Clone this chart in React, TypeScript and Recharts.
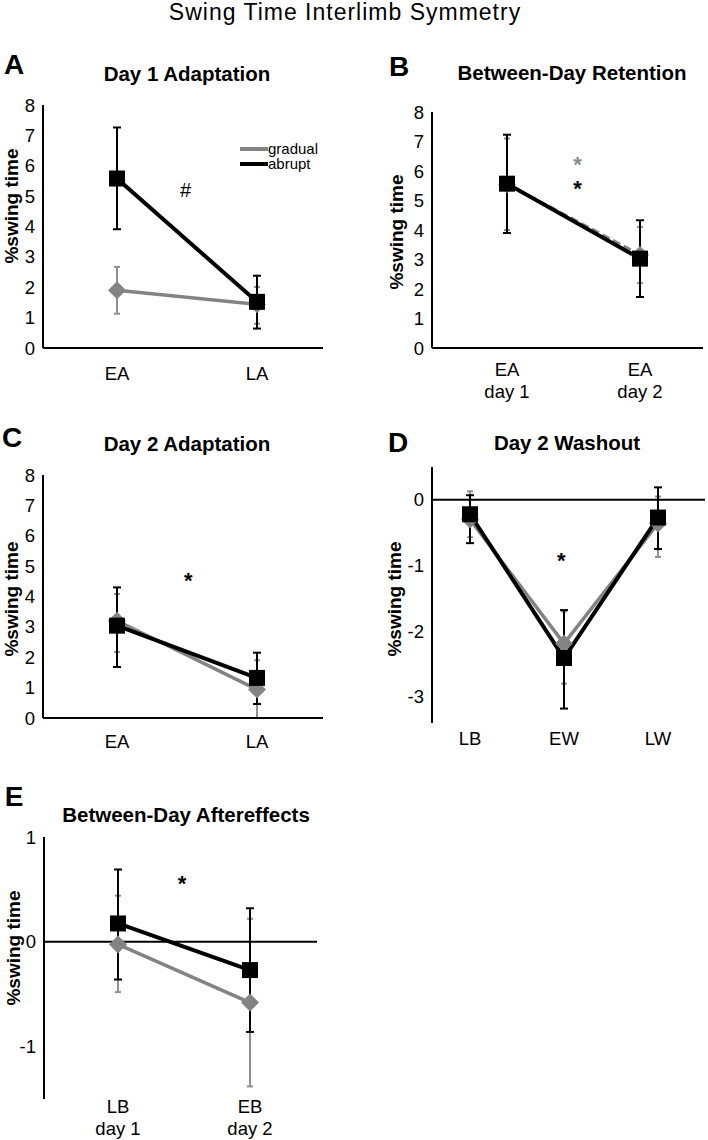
import React from "react";
import {
  ErrorBar,
  Legend,
  Line,
  LineChart,
  ReferenceDot,
  ReferenceLine,
  XAxis,
  YAxis,
} from "recharts";

const FONT = "'Liberation Sans', Arial, Helvetica, sans-serif";
const GRAY = "#838383";
const GRAY_BAR = "#8f8f8f";

// A - Day 1 Adaptation
const aCats = ["EA", "LA"];
const aGradual = [1.9, 1.44];
const aGradualLo = [1.13, 0.8];
const aGradualHi = [2.67, 2.01];
const aAbrupt = [5.58, 1.52];
const aAbruptLo = [3.91, 0.64];
const aAbruptHi = [7.26, 2.38];

// B - Between-Day Retention
const bCats = ["EA\nday 1", "EA\nday 2"];
const bGradual = [5.55, 3.15];
const bGradualLo = [4.0, 2.2];
const bGradualHi = [7.1, 4.1];
const bAbrupt = [5.57, 3.03];
const bAbruptLo = [3.9, 1.73];
const bAbruptHi = [7.23, 4.33];

// C - Day 2 Adaptation
const cCats = ["EA", "LA"];
const cGradual = [3.2, 0.94];
const cGradualLo = [2.17, 0.0];
const cGradualHi = [4.08, 1.9];
const cAbrupt = [3.04, 1.32];
const cAbruptLo = [1.68, 0.46];
const cAbruptHi = [4.3, 2.15];

// D - Day 2 Washout
const dCats = ["LB", "EW", "LW"];
const dGradual = [-0.3, -2.19, -0.36];
const dGradualLo = [-0.57, -2.8, -0.87];
const dGradualHi = [0.13, -1.7, 0.05];
const dAbrupt = [-0.22, -2.41, -0.27];
const dAbruptLo = [-0.66, -3.18, -0.75];
const dAbruptHi = [0.07, -1.68, 0.19];

// E - Between-Day Aftereffects
const eCats = ["LB\nday 1", "EB\nday 2"];
const eGradual = [-0.025, -0.58];
const eGradualLo = [-0.48, -1.38];
const eGradualHi = [0.44, 0.22];
const eAbrupt = [0.175, -0.27];
const eAbruptLo = [-0.36, -0.86];
const eAbruptHi = [0.69, 0.32];

const seriesOrder = ["gradual", "abrupt"];

// significance marks (x in category index units)
const aMarks = [{ x: 0.49, y: 5.2, text: "#", color: "#000" }];
const bMarks = [
  { x: 0.53, y: 6.41, text: "*", color: "#8a8a8a" },
  { x: 0.53, y: 5.6, text: "*", color: "#000" },
];
const cMarks = [{ x: 0.51, y: 4.7, text: "*", color: "#000" }];
const dMarks = [{ x: 0.97, y: -0.84, text: "*", color: "#000" }];
const eMarks = [{ x: 0.485, y: 0.61, text: "*", color: "#000" }];

interface Row {
  i: number;
  g: number;
  gErr: [number, number];
  a: number;
  aErr: [number, number];
}

interface Mark {
  x: number;
  y: number;
  text: string;
  color: string;
}

function rows(
  cats: string[],
  g: number[],
  gLo: number[],
  gHi: number[],
  a: number[],
  aLo: number[],
  aHi: number[],
): Row[] {
  return cats.map((_, i) => ({
    i,
    g: g[i],
    gErr: [g[i] - gLo[i], gHi[i] - g[i]],
    a: a[i],
    aErr: [a[i] - aLo[i], aHi[i] - a[i]],
  }));
}

function Square(props: any) {
  const { cx, cy } = props;
  if (cx == null || cy == null) return null;
  return <rect x={cx - 8} y={cy - 8} width={16} height={16} fill="#000" />;
}

function Diamond(props: any) {
  const { cx, cy } = props;
  if (cx == null || cy == null) return null;
  const r = 9;
  return (
    <polygon
      points={`${cx},${cy - r} ${cx + r},${cy} ${cx},${cy + r} ${cx - r},${cy}`}
      fill={GRAY}
    />
  );
}

function XTick(props: any) {
  const { x, y, payload, cats, dy } = props;
  const lines = String(cats[payload.value] ?? "").split("\n");
  return (
    <text x={x} y={y + dy} textAnchor="middle" fill="#000" fontSize={18.5} fontFamily={FONT}>
      {lines.map((l, k) => (
        <tspan key={k} x={x} dy={k === 0 ? 0 : 22}>
          {l}
        </tspan>
      ))}
    </text>
  );
}

function YLabel(props: any) {
  const { lx, ly } = props;
  return (
    <text
      x={lx}
      y={ly}
      transform={`rotate(-90 ${lx} ${ly})`}
      textAnchor="middle"
      fill="#000"
      fontSize={19}
      fontWeight="bold"
      fontFamily={FONT}
    >
      %swing time
    </text>
  );
}

function LegendBox(props: any) {
  const items = [...((props.payload ?? []) as { value: string; color: string }[])].sort(
    (p, q) => seriesOrder.indexOf(p.value) - seriesOrder.indexOf(q.value),
  );
  return (
    <div style={{ fontFamily: FONT, fontSize: 15, lineHeight: "15px" }}>
      {items.map((it) => (
        <div key={it.value} style={{ display: "flex", alignItems: "center", whiteSpace: "nowrap" }}>
          <span style={{ display: "inline-block", width: 28, height: 4, background: it.color }} />
          <span>{it.value}</span>
        </div>
      ))}
    </div>
  );
}

interface PanelProps {
  left: number;
  top: number;
  width: number;
  height: number;
  yw: number;
  mt: number;
  mr: number;
  xh: number;
  data: Row[];
  cats: string[];
  domain: [number, number];
  ticks: number[];
  padL: number;
  padR: number;
  xLine: boolean;
  zero: boolean;
  lx: number;
  ly: number;
  tickDy: number;
  grayDash?: string;
  marks: Mark[];
  legend?: boolean;
}

function Panel(p: PanelProps) {
  return (
    <div style={{ position: "absolute", left: p.left, top: p.top }}>
      <LineChart
        width={p.width}
        height={p.height}
        data={p.data}
        margin={{ top: p.mt, right: p.mr, left: 0, bottom: 0 }}
      >
        <XAxis
          dataKey="i"
          type="number"
          domain={[0, p.cats.length - 1]}
          ticks={p.cats.map((_, i) => i)}
          interval={0}
          padding={{ left: p.padL, right: p.padR }}
          height={p.xh}
          axisLine={p.xLine ? { stroke: "#000", strokeWidth: 2 } : false}
          tickLine={false}
          tick={<XTick cats={p.cats} dy={p.tickDy} />}
        />
        <YAxis
          type="number"
          domain={p.domain}
          ticks={p.ticks}
          interval={0}
          width={p.yw}
          axisLine={{ stroke: "#000", strokeWidth: 2 }}
          tickLine={false}
          tick={{ fill: "#000", fontSize: 18.5, fontFamily: FONT }}
          label={<YLabel lx={p.lx} ly={p.ly} />}
        />
        {p.zero && <ReferenceLine y={0} stroke="#000" strokeWidth={2} />}
        <Line
          name="gradual"
          dataKey="g"
          stroke={GRAY}
          strokeWidth={3.5}
          strokeDasharray={p.grayDash}
          dot={<Diamond />}
          activeDot={false}
          isAnimationActive={false}
        >
          <ErrorBar dataKey="gErr" direction="y" width={3} stroke={GRAY_BAR} strokeWidth={2} />
        </Line>
        <Line
          name="abrupt"
          dataKey="a"
          stroke="#000"
          strokeWidth={4}
          dot={<Square />}
          activeDot={false}
          isAnimationActive={false}
        >
          <ErrorBar dataKey="aErr" direction="y" width={4} stroke="#000" strokeWidth={2} />
        </Line>
        {p.marks.map((m, k) => (
          <ReferenceDot
            key={k}
            x={m.x}
            y={m.y}
            r={0}
            ifOverflow="visible"
            shape={(sp: any) => (
              <text
                x={sp.cx}
                y={sp.cy + (m.text === "*" ? 13 : 7)}
                textAnchor="middle"
                fill={m.color}
                fontSize={m.text === "*" ? 22 : 20}
                fontWeight={m.text === "*" ? "bold" : "normal"}
                fontFamily={FONT}
              >
                {m.text}
              </text>
            )}
          />
        ))}
        {p.legend && (
          <Legend
            layout="vertical"
            align="center"
            verticalAlign="middle"
            content={<LegendBox />}
            wrapperStyle={{ left: 240, top: 51, width: 90, height: 30 }}
          />
        )}
      </LineChart>
    </div>
  );
}

function Txt({
  x,
  y,
  size,
  bold,
  children,
  spacing,
}: {
  x: number;
  y: number;
  size: number;
  bold?: boolean;
  spacing?: number;
  children: React.ReactNode;
}) {
  return (
    <div
      style={{
        position: "absolute",
        left: x,
        top: y,
        transform: "translate(-50%, -50%)",
        fontFamily: FONT,
        fontSize: size,
        fontWeight: bold ? "bold" : "normal",
        letterSpacing: spacing ?? 0,
        lineHeight: 1,
        whiteSpace: "nowrap",
        color: "#000",
      }}
    >
      {children}
    </div>
  );
}

export default function App() {
  return (
    <div
      style={{
        position: "absolute",
        left: 0,
        top: 0,
        width: 708,
        height: 1140,
        background: "#fff",
        overflow: "hidden",
      }}
    >
      <Txt x={345} y={12} size={23} spacing={1}>
        Swing Time Interlimb Symmetry
      </Txt>

      <Txt x={14} y={65} size={28} bold>A</Txt>
      <Txt x={187} y={74} size={20.5} bold>Day 1 Adaptation</Txt>
      <Txt x={399} y={67} size={28} bold>B</Txt>
      <Txt x={572} y={73} size={20.5} bold>Between-Day Retention</Txt>
      <Txt x={12} y={438} size={28} bold>C</Txt>
      <Txt x={187} y={444} size={20.5} bold>Day 2 Adaptation</Txt>
      <Txt x={398} y={443} size={28} bold>D</Txt>
      <Txt x={567} y={443} size={20.5} bold>Day 2 Washout</Txt>
      <Txt x={14} y={797} size={28} bold>E</Txt>
      <Txt x={186} y={815} size={20.5} bold>Between-Day Aftereffects</Txt>

      <Panel
        left={0}
        top={90}
        width={330}
        height={300}
        yw={43}
        mt={15}
        mr={7}
        xh={42}
        data={rows(aCats, aGradual, aGradualLo, aGradualHi, aAbrupt, aAbruptLo, aAbruptHi)}
        cats={aCats}
        domain={[0, 8]}
        ticks={[0, 1, 2, 3, 4, 5, 6, 7, 8]}
        padL={74}
        padR={66}
        xLine
        zero={false}
        lx={18}
        ly={116}
        tickDy={23.6}
        marks={aMarks}
        legend
      />
      <Panel
        left={350}
        top={90}
        width={358}
        height={320}
        yw={82}
        mt={22}
        mr={5}
        xh={62}
        data={rows(bCats, bGradual, bGradualLo, bGradualHi, bAbrupt, bAbruptLo, bAbruptHi)}
        cats={bCats}
        domain={[0, 8]}
        ticks={[0, 1, 2, 3, 4, 5, 6, 7, 8]}
        padL={75}
        padR={63}
        xLine
        zero={false}
        lx={53}
        ly={142}
        tickDy={20}
        grayDash="8 4"
        marks={bMarks}
      />
      <Panel
        left={0}
        top={460}
        width={330}
        height={300}
        yw={43}
        mt={15}
        mr={7}
        xh={42}
        data={rows(cCats, cGradual, cGradualLo, cGradualHi, cAbrupt, cAbruptLo, cAbruptHi)}
        cats={cCats}
        domain={[0, 8]}
        ticks={[0, 1, 2, 3, 4, 5, 6, 7, 8]}
        padL={74}
        padR={66}
        xLine
        zero={false}
        lx={18}
        ly={139}
        tickDy={22}
        marks={cMarks}
      />
      <Panel
        left={350}
        top={460}
        width={358}
        height={300}
        yw={82}
        mt={7}
        mr={3}
        xh={37}
        data={rows(dCats, dGradual, dGradualLo, dGradualHi, dAbrupt, dAbruptLo, dAbruptHi)}
        cats={dCats}
        domain={[-3.4, 0.5]}
        ticks={[-3, -2, -1, 0]}
        padL={38}
        padR={47}
        xLine={false}
        zero
        lx={51}
        ly={139}
        tickDy={13.6}
        marks={dMarks}
      />
      <Panel
        left={0}
        top={820}
        width={330}
        height={320}
        yw={44}
        mt={17}
        mr={13}
        xh={41}
        data={rows(eCats, eGradual, eGradualLo, eGradualHi, eAbrupt, eAbruptLo, eAbruptHi)}
        cats={eCats}
        domain={[-1.5, 1]}
        ticks={[-1, 0, 1]}
        padL={74}
        padR={67}
        xLine={false}
        zero
        lx={20}
        ly={128}
        tickDy={6}
        marks={eMarks}
      />
    </div>
  );
}
